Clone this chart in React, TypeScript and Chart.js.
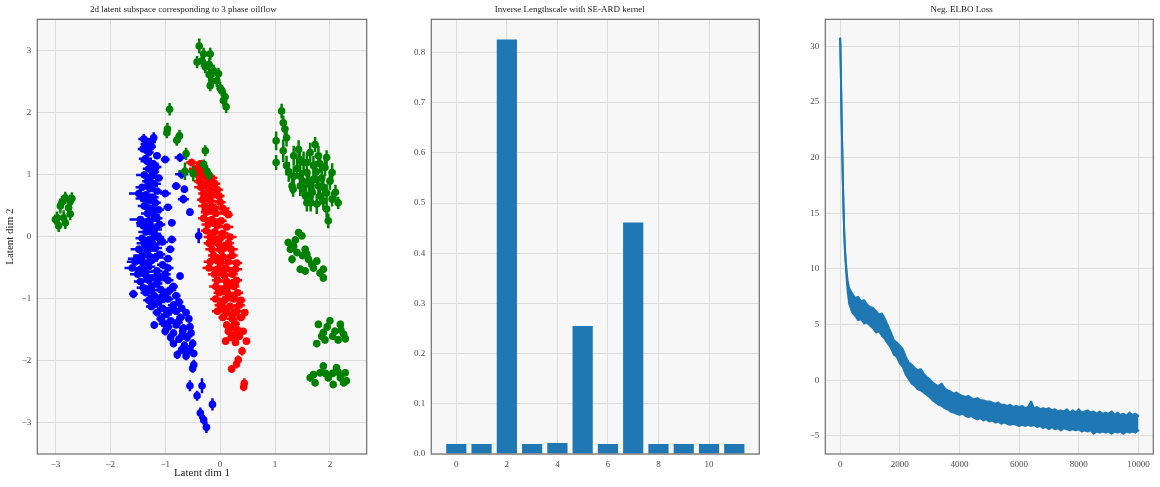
import React, { useEffect, useRef } from 'react';
import { Chart, registerables } from 'chart.js';

Chart.register(...registerables);

const FONT = "'Liberation Serif', 'DejaVu Serif', serif";

// ---------- Panel 1: latent space (x, y, xerr, yerr) ----------
const bluePoints: number[][] = [
  [-1.39, 1.58, 0.10, 0.08], [-1.21, 1.60, 0.06, 0.09], [-1.33, 1.50, 0.12, 0.06], [-1.25, 1.46, 0.08, 0.07],
  [-1.40, 1.42, 0.10, 0.05], [-1.30, 1.36, 0.09, 0.06], [-1.15, 1.31, 0.07, 0.05], [-1.00, 1.25, 0.08, 0.06],
  [-0.73, 1.28, 0.10, 0.07], [-1.33, 1.22, 0.12, 0.05], [-1.22, 1.18, 0.10, 0.06], [-1.30, 1.10, 0.11, 0.06],
  [-1.20, 1.05, 0.09, 0.05], [-1.38, 1.00, 0.15, 0.05], [-1.25, 0.98, 0.12, 0.06], [-1.12, 0.95, 0.08, 0.05],
  [-0.70, 1.01, 0.12, 0.07], [-1.32, 0.90, 0.10, 0.05], [-1.20, 0.86, 0.12, 0.06], [-1.42, 0.80, 0.12, 0.05],
  [-1.28, 0.78, 0.10, 0.06], [-1.15, 0.74, 0.09, 0.05], [-0.80, 0.82, 0.08, 0.06], [-0.65, 0.77, 0.06, 0.06],
  [-1.48, 0.70, 0.18, 0.06], [-1.35, 0.68, 0.12, 0.05], [-1.22, 0.64, 0.10, 0.05], [-1.00, 0.70, 0.10, 0.06],
  [-1.30, 0.58, 0.15, 0.05], [-1.18, 0.55, 0.10, 0.06], [-0.67, 0.61, 0.10, 0.07], [-1.38, 0.50, 0.12, 0.05],
  [-1.25, 0.46, 0.14, 0.06], [-1.12, 0.44, 0.10, 0.05], [-0.95, 0.48, 0.08, 0.05], [-1.32, 0.38, 0.12, 0.06],
  [-1.20, 0.35, 0.10, 0.05], [-0.55, 0.40, 0.06, 0.06], [-1.45, 0.28, 0.20, 0.05], [-1.30, 0.26, 0.14, 0.06],
  [-1.15, 0.30, 0.10, 0.05], [-1.40, 0.18, 0.12, 0.05], [-1.25, 0.15, 0.15, 0.06], [-1.10, 0.20, 0.10, 0.05],
  [-0.88, 0.23, 0.07, 0.06], [-1.35, 0.08, 0.14, 0.05], [-1.20, 0.05, 0.12, 0.06], [-1.42, -0.02, 0.12, 0.05],
  [-1.28, -0.04, 0.15, 0.06], [-1.12, 0.00, 0.10, 0.05], [-0.39, 0.02, 0.06, 0.12], [-0.88, -0.04, 0.08, 0.06],
  [-1.38, -0.10, 0.14, 0.05], [-1.22, -0.12, 0.12, 0.06], [-1.05, -0.08, 0.10, 0.05], [-1.48, -0.20, 0.15, 0.06],
  [-1.32, -0.22, 0.14, 0.05], [-1.18, -0.18, 0.12, 0.06], [-0.91, -0.20, 0.08, 0.06], [-1.42, -0.30, 0.16, 0.05],
  [-1.28, -0.32, 0.12, 0.06], [-1.10, -0.28, 0.10, 0.05], [-0.95, -0.35, 0.08, 0.05], [-1.55, -0.40, 0.15, 0.06],
  [-1.40, -0.42, 0.14, 0.05], [-1.25, -0.38, 0.12, 0.06], [-1.05, -0.45, 0.10, 0.05], [-1.60, -0.50, 0.14, 0.05],
  [-1.45, -0.52, 0.15, 0.06], [-1.30, -0.48, 0.12, 0.05], [-1.15, -0.55, 0.10, 0.06], [-0.95, -0.50, 0.10, 0.05],
  [-1.50, -0.60, 0.14, 0.05], [-1.35, -0.62, 0.12, 0.06], [-1.20, -0.65, 0.12, 0.05], [-1.00, -0.60, 0.10, 0.06],
  [-0.73, -0.63, 0.06, 0.06], [-1.45, -0.72, 0.12, 0.05], [-1.30, -0.70, 0.14, 0.06], [-1.15, -0.75, 0.10, 0.05],
  [-0.95, -0.70, 0.10, 0.06], [-1.40, -0.82, 0.12, 0.05], [-1.25, -0.80, 0.12, 0.06], [-1.08, -0.85, 0.10, 0.05],
  [-0.85, -0.80, 0.08, 0.06], [-1.58, -0.92, 0.08, 0.07], [-1.35, -0.90, 0.10, 0.05], [-1.20, -0.95, 0.12, 0.06],
  [-1.00, -0.92, 0.10, 0.05], [-0.80, -0.95, 0.08, 0.06], [-1.30, -1.02, 0.10, 0.05], [-1.12, -1.05, 0.12, 0.06],
  [-0.95, -1.00, 0.10, 0.05], [-0.75, -1.05, 0.08, 0.06], [-1.25, -1.12, 0.10, 0.06], [-1.05, -1.15, 0.10, 0.05],
  [-0.85, -1.10, 0.10, 0.06], [-0.70, -1.15, 0.06, 0.05], [-1.15, -1.22, 0.08, 0.06], [-0.98, -1.25, 0.10, 0.05],
  [-0.80, -1.20, 0.08, 0.06], [-0.62, -1.22, 0.06, 0.06], [-1.08, -1.32, 0.08, 0.06], [-0.90, -1.35, 0.08, 0.05],
  [-0.72, -1.30, 0.08, 0.06], [-0.57, -1.32, 0.06, 0.06], [-1.20, -1.42, 0.06, 0.06], [-0.95, -1.45, 0.08, 0.06],
  [-0.80, -1.42, 0.06, 0.05], [-0.55, -1.45, 0.06, 0.07], [-1.00, -1.52, 0.06, 0.07], [-0.85, -1.55, 0.06, 0.06],
  [-0.68, -1.52, 0.06, 0.06], [-0.53, -1.55, 0.05, 0.07], [-0.90, -1.62, 0.05, 0.07], [-0.75, -1.65, 0.06, 0.06],
  [-0.60, -1.62, 0.05, 0.07], [-0.85, -1.72, 0.05, 0.06], [-0.65, -1.75, 0.05, 0.07], [-0.50, -1.72, 0.05, 0.07],
  [-0.70, -1.82, 0.05, 0.07], [-0.55, -1.80, 0.05, 0.06], [-0.78, -1.90, 0.04, 0.07], [-0.62, -1.92, 0.05, 0.07],
  [-0.48, -1.88, 0.04, 0.06], [-0.48, -2.06, 0.04, 0.08], [-0.50, -2.12, 0.04, 0.07], [-0.55, -2.40, 0.03, 0.09],
  [-0.33, -2.40, 0.03, 0.12], [-0.42, -2.56, 0.03, 0.08], [-0.14, -2.70, 0.03, 0.10], [-0.36, -2.84, 0.03, 0.09],
  [-0.30, -2.95, 0.03, 0.08], [-0.25, -3.07, 0.03, 0.09],
  [-1.27, 1.53, 0.10, 0.06], [-1.36, 1.26, 0.12, 0.06], [-1.17, 1.13, 0.10, 0.06], [-1.27, 0.83, 0.14, 0.06],
  [-1.40, 0.62, 0.14, 0.06], [-1.22, 0.40, 0.14, 0.06], [-1.37, 0.22, 0.16, 0.06], [-1.20, 0.12, 0.14, 0.06],
  [-1.35, -0.16, 0.16, 0.06], [-1.18, -0.33, 0.15, 0.06], [-1.52, -0.35, 0.16, 0.06], [-1.38, -0.56, 0.16, 0.06],
  [-1.10, -0.66, 0.14, 0.06], [-1.25, -0.86, 0.14, 0.06], [-0.92, -0.86, 0.12, 0.06], [-1.05, -0.97, 0.12, 0.06],
  [-1.18, -1.08, 0.12, 0.06], [-0.90, -1.18, 0.12, 0.06], [-0.78, -1.38, 0.10, 0.06], [-1.02, -1.40, 0.10, 0.06],
  [-0.67, -1.47, 0.08, 0.06], [-0.70, -1.60, 0.06, 0.07], [-0.60, -1.85, 0.06, 0.07],
];

const redPoints: number[][] = [
  [-0.52, 1.20, 0.10, 0.06], [-0.36, 1.18, 0.08, 0.06], [-0.45, 1.10, 0.12, 0.05], [-0.30, 1.08, 0.10, 0.05],
  [-0.40, 1.00, 0.10, 0.05], [-0.28, 0.98, 0.12, 0.06], [-0.15, 0.95, 0.10, 0.05], [-0.38, 0.90, 0.10, 0.05],
  [-0.22, 0.88, 0.12, 0.06], [-0.10, 0.86, 0.10, 0.05], [-0.35, 0.80, 0.12, 0.05], [-0.20, 0.78, 0.10, 0.06],
  [-0.05, 0.76, 0.10, 0.05], [-0.30, 0.70, 0.10, 0.05], [-0.15, 0.68, 0.12, 0.06], [-0.02, 0.66, 0.10, 0.05],
  [-0.32, 0.60, 0.10, 0.05], [-0.18, 0.58, 0.12, 0.06], [0.00, 0.56, 0.10, 0.05], [-0.28, 0.50, 0.12, 0.05],
  [-0.12, 0.48, 0.10, 0.06], [0.05, 0.46, 0.12, 0.05], [-0.25, 0.40, 0.10, 0.05], [-0.08, 0.38, 0.12, 0.06],
  [0.10, 0.40, 0.10, 0.05], [0.15, 0.36, 0.08, 0.05], [-0.30, 0.30, 0.10, 0.05], [-0.15, 0.28, 0.12, 0.06],
  [0.02, 0.26, 0.10, 0.05], [-0.22, 0.20, 0.12, 0.05], [-0.05, 0.18, 0.10, 0.06], [0.12, 0.16, 0.12, 0.05],
  [-0.25, 0.10, 0.10, 0.05], [-0.10, 0.08, 0.12, 0.06], [0.05, 0.06, 0.10, 0.05], [-0.18, 0.00, 0.12, 0.05],
  [0.00, -0.02, 0.10, 0.06], [0.18, 0.00, 0.12, 0.05], [-0.20, -0.10, 0.10, 0.05], [-0.02, -0.12, 0.12, 0.06],
  [0.15, -0.10, 0.10, 0.05], [-0.15, -0.20, 0.12, 0.05], [0.02, -0.22, 0.10, 0.06], [0.20, -0.20, 0.12, 0.05],
  [-0.12, -0.30, 0.10, 0.05], [0.05, -0.32, 0.12, 0.06], [0.22, -0.30, 0.10, 0.05], [-0.18, -0.40, 0.12, 0.05],
  [0.00, -0.42, 0.10, 0.06], [0.15, -0.40, 0.12, 0.05], [0.30, -0.42, 0.10, 0.05], [-0.20, -0.50, 0.12, 0.05],
  [-0.05, -0.52, 0.12, 0.06], [0.10, -0.50, 0.12, 0.05], [0.28, -0.52, 0.12, 0.05], [-0.10, -0.60, 0.12, 0.05],
  [0.08, -0.62, 0.12, 0.06], [0.22, -0.60, 0.10, 0.05], [-0.05, -0.70, 0.10, 0.05], [0.12, -0.72, 0.12, 0.06],
  [0.30, -0.70, 0.10, 0.05], [-0.08, -0.80, 0.12, 0.05], [0.10, -0.82, 0.12, 0.06], [0.25, -0.80, 0.10, 0.05],
  [-0.02, -0.90, 0.10, 0.05], [0.15, -0.92, 0.12, 0.06], [0.32, -0.90, 0.10, 0.05], [-0.08, -1.00, 0.10, 0.05],
  [0.08, -1.02, 0.12, 0.06], [0.25, -1.00, 0.10, 0.05], [0.38, -1.02, 0.08, 0.05], [0.00, -1.10, 0.10, 0.05],
  [0.18, -1.12, 0.12, 0.06], [0.35, -1.10, 0.10, 0.05], [-0.05, -1.20, 0.10, 0.05], [0.12, -1.22, 0.10, 0.06],
  [0.30, -1.20, 0.10, 0.05], [0.45, -1.22, 0.05, 0.05], [0.05, -1.30, 0.08, 0.05], [0.22, -1.32, 0.10, 0.06],
  [0.38, -1.30, 0.08, 0.05], [0.12, -1.42, 0.06, 0.06], [0.28, -1.40, 0.08, 0.05], [0.15, -1.52, 0.06, 0.06],
  [0.32, -1.50, 0.08, 0.06], [0.42, -1.52, 0.05, 0.05], [0.20, -1.62, 0.06, 0.06], [0.35, -1.60, 0.06, 0.06],
  [0.10, -1.68, 0.06, 0.06], [0.28, -1.70, 0.06, 0.06], [0.48, -1.68, 0.06, 0.05], [0.40, -1.84, 0.05, 0.07],
  [0.33, -1.98, 0.05, 0.07], [0.30, -2.05, 0.05, 0.07], [0.21, -2.13, 0.05, 0.06], [0.44, -2.36, 0.04, 0.08],
  [0.43, -2.42, 0.04, 0.07],
  [-0.42, 1.04, 0.12, 0.06], [-0.25, 0.83, 0.14, 0.06], [-0.22, 0.64, 0.14, 0.06], [-0.20, 0.44, 0.14, 0.06],
  [-0.10, 0.23, 0.14, 0.06], [-0.08, -0.05, 0.14, 0.06], [0.08, -0.15, 0.14, 0.06], [-0.05, -0.35, 0.14, 0.06],
  [0.05, -0.55, 0.14, 0.06], [0.20, -0.76, 0.14, 0.06], [0.05, -0.86, 0.14, 0.06], [0.18, -0.97, 0.14, 0.06],
  [0.10, -1.16, 0.14, 0.06], [0.22, -1.26, 0.12, 0.06], [0.20, -1.46, 0.10, 0.06], [0.25, -1.58, 0.08, 0.06],
];

const greenPoints: number[][] = [
  [-0.38, 3.08, 0.04, 0.12], [-0.30, 2.95, 0.04, 0.10], [-0.18, 2.95, 0.04, 0.10], [-0.42, 2.82, 0.04, 0.10],
  [-0.33, 2.84, 0.04, 0.10], [-0.27, 2.74, 0.05, 0.10], [-0.20, 2.78, 0.04, 0.10], [-0.12, 2.68, 0.04, 0.10],
  [-0.03, 2.63, 0.05, 0.10], [-0.20, 2.62, 0.04, 0.10], [-0.15, 2.52, 0.04, 0.10], [-0.06, 2.52, 0.04, 0.10],
  [-0.18, 2.44, 0.04, 0.09], [0.00, 2.40, 0.04, 0.10], [0.03, 2.36, 0.04, 0.09], [0.09, 2.26, 0.04, 0.10],
  [0.06, 2.20, 0.04, 0.09], [0.11, 2.10, 0.04, 0.10],
  [-0.92, 2.06, 0.04, 0.10], [-0.96, 1.74, 0.04, 0.10], [-0.97, 1.68, 0.04, 0.09], [-0.74, 1.63, 0.05, 0.10],
  [-0.79, 1.56, 0.05, 0.09], [-0.62, 1.34, 0.04, 0.10], [-0.27, 1.39, 0.06, 0.09], [-0.30, 1.17, 0.04, 0.08],
  [-0.64, 1.06, 0.12, 0.14], [-0.49, 1.02, 0.06, 0.12], [-0.24, 1.06, 0.05, 0.10], [-0.20, 1.00, 0.04, 0.08],
  [-2.82, 0.63, 0.03, 0.10], [-2.73, 0.58, 0.03, 0.10], [-2.70, 0.62, 0.03, 0.10], [-2.91, 0.50, 0.03, 0.12],
  [-2.76, 0.47, 0.03, 0.12], [-2.88, 0.56, 0.03, 0.10], [-2.97, 0.31, 0.03, 0.10], [-2.85, 0.31, 0.03, 0.12],
  [-2.73, 0.37, 0.03, 0.10], [-2.94, 0.18, 0.03, 0.10], [-2.82, 0.23, 0.03, 0.10], [-3.00, 0.28, 0.03, 0.08],
  [1.12, 2.03, 0.03, 0.12], [1.15, 1.84, 0.03, 0.12], [1.18, 1.74, 0.03, 0.12], [1.02, 1.55, 0.03, 0.15],
  [1.21, 1.60, 0.03, 0.14], [1.02, 1.20, 0.03, 0.12], [1.15, 1.39, 0.03, 0.18], [1.21, 1.15, 0.03, 0.16],
  [1.34, 1.31, 0.03, 0.16], [1.43, 1.41, 0.03, 0.15], [1.31, 0.82, 0.03, 0.12], [1.34, 0.98, 0.03, 0.16],
  [1.52, 1.20, 0.04, 0.18], [1.73, 1.49, 0.03, 0.12], [1.64, 1.36, 0.03, 0.16], [1.79, 1.31, 0.03, 0.16],
  [1.94, 1.28, 0.03, 0.12], [1.91, 1.12, 0.03, 0.14], [2.04, 1.04, 0.03, 0.15], [2.00, 0.90, 0.03, 0.14],
  [1.58, 1.04, 0.04, 0.18], [1.70, 0.93, 0.04, 0.18], [1.52, 0.77, 0.04, 0.16], [1.64, 0.66, 0.04, 0.16],
  [1.82, 0.66, 0.04, 0.15], [1.94, 0.71, 0.04, 0.14], [2.15, 0.55, 0.05, 0.10], [2.04, 0.61, 0.04, 0.12],
  [1.58, 0.55, 0.04, 0.14], [1.76, 0.53, 0.04, 0.16], [1.94, 0.45, 0.04, 0.14], [1.97, 0.26, 0.04, 0.12],
  [1.46, 0.98, 0.04, 0.16], [1.46, 0.82, 0.04, 0.16], [1.79, 0.82, 0.04, 0.16], [1.58, 1.20, 0.04, 0.16],
  [1.70, 1.15, 0.04, 0.16], [1.33, 0.77, 0.03, 0.12], [1.62, 0.85, 0.04, 0.18], [1.85, 0.95, 0.04, 0.16],
  [1.40, 1.10, 0.03, 0.15], [1.68, 0.72, 0.04, 0.16], [1.88, 0.58, 0.04, 0.14], [2.10, 0.72, 0.04, 0.12],
  [1.25, 1.05, 0.03, 0.16], [1.50, 0.90, 0.04, 0.18], [1.75, 1.05, 0.04, 0.18], [1.88, 0.80, 0.04, 0.16],
  [1.65, 0.55, 0.04, 0.14], [1.55, 0.68, 0.04, 0.16], [1.82, 1.18, 0.04, 0.14], [1.45, 1.25, 0.03, 0.16],
  [1.43, 0.07, 0.04, 0.06], [1.49, 0.02, 0.04, 0.06], [1.24, -0.09, 0.04, 0.06], [1.34, -0.15, 0.04, 0.06],
  [1.40, -0.25, 0.04, 0.06], [1.55, -0.20, 0.04, 0.06], [1.31, -0.36, 0.04, 0.07], [1.61, -0.36, 0.04, 0.06],
  [1.76, -0.39, 0.04, 0.06], [1.46, -0.52, 0.04, 0.06], [1.55, -0.55, 0.04, 0.06], [1.88, -0.52, 0.04, 0.06],
  [1.88, -0.66, 0.04, 0.06], [1.67, -0.44, 0.04, 0.06], [1.50, -0.30, 0.04, 0.06], [1.37, -0.05, 0.04, 0.06],
  [1.58, -0.28, 0.04, 0.06], [1.70, -0.50, 0.04, 0.06], [1.82, -0.58, 0.04, 0.06], [1.28, -0.20, 0.04, 0.06],
  [1.79, -1.41, 0.04, 0.06], [2.00, -1.35, 0.04, 0.06], [2.19, -1.41, 0.04, 0.06], [1.88, -1.54, 0.04, 0.06],
  [2.09, -1.52, 0.04, 0.06], [2.25, -1.57, 0.04, 0.06], [1.76, -1.72, 0.04, 0.06], [1.91, -1.66, 0.04, 0.06],
  [2.15, -1.66, 0.04, 0.06], [2.28, -1.64, 0.04, 0.06], [1.95, -1.45, 0.04, 0.06], [1.85, -1.60, 0.04, 0.06],
  [2.05, -1.60, 0.04, 0.06], [2.20, -1.50, 0.04, 0.06],
  [1.64, -2.27, 0.04, 0.06], [1.73, -2.35, 0.04, 0.06], [1.82, -2.19, 0.04, 0.06], [1.88, -2.08, 0.04, 0.06],
  [1.97, -2.27, 0.04, 0.06], [2.12, -2.11, 0.04, 0.06], [2.19, -2.27, 0.04, 0.06], [2.28, -2.19, 0.04, 0.06],
  [2.30, -2.32, 0.04, 0.06], [2.06, -2.38, 0.04, 0.06], [2.05, -2.20, 0.04, 0.06], [1.70, -2.22, 0.04, 0.06],
  [2.25, -2.35, 0.04, 0.06], [2.15, -2.18, 0.04, 0.06], [1.92, -2.20, 0.04, 0.06],
];

const latentXTicks = [-3, -2, -1, 0, 1, 2];
const latentYTicks = [-3, -2, -1, 0, 1, 2, 3];

// ---------- Panel 2: inverse lengthscales ----------
const dims = [0, 1, 2, 3, 4, 5, 6, 7, 8, 9, 10, 11];
const invLengthscale = [0.02, 0.02, 0.826, 0.02, 0.022, 0.255, 0.02, 0.461, 0.02, 0.02, 0.02, 0.02];
const barXTicks = [0, 2, 4, 6, 8, 10];
const barYTicks = [0, 0.1, 0.2, 0.3, 0.4, 0.5, 0.6, 0.7, 0.8];

// ---------- Panel 3: loss (upper / lower envelope of the noisy curve) ----------
const lossSteps = [
  0, 20, 40, 60, 90, 110, 135, 160, 190, 220, 250, 300,
  400, 500, 600, 700, 800, 900, 1000, 1100, 1200, 1300, 1400, 1500, 1600, 1700, 1800, 1900,
  2000, 2100, 2200, 2300, 2400, 2500, 2600, 2700, 2800, 2900, 3000, 3100, 3200, 3300, 3400, 3500,
  3600, 3700, 3800, 3900, 4000, 4100, 4200, 4300, 4400, 4500, 4600, 4700, 4800, 4900, 5000, 5100,
  5200, 5300, 5400, 5500, 5600, 5700, 5800, 5900, 6000, 6100, 6200, 6300, 6400, 6500, 6600, 6700,
  6800, 6900, 7000, 7100, 7200, 7300, 7400, 7500, 7600, 7700, 7800, 7900, 8000, 8100, 8200, 8300,
  8400, 8500, 8600, 8700, 8800, 8900, 9000, 9100, 9200, 9300, 9400, 9500, 9600, 9700, 9800, 9900, 10000,
];
const lossUpper = [
  30.7, 28.0, 24.5, 21.8, 17.8, 15.5, 13.2, 11.8, 10.6, 9.7, 8.9, 8.3,
  7.8, 7.4, 7.5, 7.1, 7.2, 6.8, 6.6, 6.5, 6.2, 5.9, 6.0, 5.5, 4.9, 4.3, 3.6, 3.4,
  3.1, 2.8, 2.1, 1.6, 1.4, 1.1, 0.9, 1.0, 0.6, 0.3, 0.1, -0.2, -0.4, -0.5, -0.3, -0.7,
  -0.9, -1.0, -1.2, -1.1, -1.3, -1.4, -1.5, -1.4, -1.6, -1.7, -1.6, -1.8, -1.8, -1.9, -1.9, -2.0,
  -2.1, -2.0, -2.2, -2.2, -2.3, -2.2, -2.4, -2.3, -2.4, -2.3, -2.5, -2.4, -1.9, -2.5, -2.4, -2.6,
  -2.5, -2.6, -2.5, -2.7, -2.6, -2.8, -2.7, -2.8, -2.6, -2.9, -2.7, -2.9, -2.6, -2.9, -2.8, -2.7,
  -2.9, -2.8, -3.0, -2.8, -3.0, -2.9, -3.0, -2.8, -3.1, -2.9, -3.1, -3.0, -3.2, -2.9, -3.1, -3.0, -3.2,
];
const lossLower = [
  30.7, 28.0, 24.5, 21.8, 17.8, 15.5, 13.2, 11.6, 10.2, 9.0, 8.0, 6.9,
  6.1, 5.8, 5.4, 5.5, 5.1, 5.2, 4.9, 4.7, 4.3, 4.4, 4.0, 3.7, 3.3, 2.9, 2.3, 2.1,
  1.5, 1.2, 0.5, 0.1, -0.3, -0.5, -0.8, -0.9, -1.1, -1.3, -1.5, -1.8, -2.0, -2.2, -2.3, -2.5,
  -2.6, -2.8, -2.9, -3.0, -3.1, -3.0, -3.2, -3.3, -3.2, -3.4, -3.5, -3.4, -3.6, -3.5, -3.7, -3.6,
  -3.8, -3.7, -3.9, -3.8, -3.9, -4.0, -3.9, -4.0, -4.1, -4.0, -4.1, -4.0, -4.1, -4.0, -4.2, -4.1,
  -4.3, -4.2, -4.4, -4.2, -4.4, -4.3, -4.5, -4.3, -4.4, -4.5, -4.4, -4.5, -4.4, -4.6, -4.5, -4.6,
  -4.5, -4.8, -4.6, -4.7, -4.6, -4.7, -4.6, -4.8, -4.6, -4.7, -4.6, -4.8, -4.6, -4.7, -4.6, -4.7, -4.5,
];
const lossXTicks = [0, 2000, 4000, 6000, 8000, 10000];
const lossYTicks = [-5, 0, 5, 10, 15, 20, 25, 30];

// ---------- helpers ----------
const fmt = (v: number, d: number) => {
  const s = Math.abs(v).toFixed(d);
  return v < 0 ? '\u2212' + s : s;
};

const framePlugin = {
  id: 'frame',
  beforeDraw(chart: any) {
    const { ctx, chartArea: a } = chart;
    ctx.save();
    ctx.fillStyle = '#f7f7f7';
    ctx.fillRect(a.left, a.top, a.right - a.left, a.bottom - a.top);
    ctx.restore();
  },
  afterDraw(chart: any) {
    const { ctx, chartArea: a } = chart;
    ctx.save();
    ctx.strokeStyle = '#6e6e6e';
    ctx.lineWidth = 1.2;
    ctx.strokeRect(a.left, a.top, a.right - a.left, a.bottom - a.top);
    ctx.restore();
  },
};

const errorBarPlugin = {
  id: 'errorBars',
  beforeDatasetDraw(chart: any, args: any) {
    const ds = chart.data.datasets[args.index];
    if (!ds.errorBars) return;
    const { ctx } = chart;
    const xs = chart.scales.x;
    const ys = chart.scales.y;
    ctx.save();
    ctx.strokeStyle = ds.backgroundColor;
    ctx.lineWidth = 2.5;
    ctx.beginPath();
    ds.data.forEach((p: any) => {
      const px = xs.getPixelForValue(p.x);
      const py = ys.getPixelForValue(p.y);
      ctx.moveTo(xs.getPixelForValue(p.x - p.ex), py);
      ctx.lineTo(xs.getPixelForValue(p.x + p.ex), py);
      ctx.moveTo(px, ys.getPixelForValue(p.y - p.ey));
      ctx.lineTo(px, ys.getPixelForValue(p.y + p.ey));
    });
    ctx.stroke();
    ctx.restore();
  },
};

function axis(min: number, max: number, ticks: number[], decimals: number, isY: boolean, size: number, title?: any) {
  return {
    type: 'linear',
    min,
    max,
    offset: false,
    afterBuildTicks: (s: any) => {
      s.ticks = ticks.map((v) => ({ value: v }));
    },
    afterFit: (s: any) => {
      if (isY) s.width = size;
      else s.height = size;
    },
    grid: { color: '#dcdcdc', lineWidth: 1, drawTicks: false, tickLength: 0, offset: false },
    border: { display: false },
    ticks: {
      color: '#4a4a4a',
      font: { family: FONT, size: 9 },
      padding: isY ? 6 : 5,
      autoSkip: false,
      maxRotation: 0,
      callback: (v: any) => fmt(Number(v), decimals),
    },
    title: title || { display: false },
  };
}

function titleOpts(text: string) {
  return {
    display: true,
    text,
    color: '#222',
    font: { family: FONT, size: 9, weight: 'normal', lineHeight: 1.2 },
    padding: { top: 4, bottom: 4.5 },
  };
}

const toPts = (arr: number[][]) => arr.map(([x, y, ex, ey]) => ({ x, y, ex, ey }));

export default function App() {
  const c1 = useRef<HTMLCanvasElement>(null);
  const c2 = useRef<HTMLCanvasElement>(null);
  const c3 = useRef<HTMLCanvasElement>(null);

  useEffect(() => {
    const common = {
      animation: false,
      responsive: false,
      maintainAspectRatio: false,
      devicePixelRatio: 1,
      events: [],
    };

    const chart1 = new Chart(c1.current as HTMLCanvasElement, {
      type: 'scatter',
      data: {
        datasets: [
          { label: 'green', data: toPts(greenPoints), backgroundColor: '#008000', borderColor: '#008000', errorBars: true, order: 0 },
          { label: 'blue', data: toPts(bluePoints), backgroundColor: '#0000ff', borderColor: '#0000ff', errorBars: true, order: 1 },
          { label: 'red', data: toPts(redPoints), backgroundColor: '#ff0000', borderColor: '#ff0000', errorBars: true, order: 2 },
        ] as any,
      },
      options: {
        ...common,
        layout: { padding: { left: 0, right: 13.3, top: 0, bottom: 0 } },
        elements: { point: { radius: 3.8, borderWidth: 0, hoverRadius: 3.8 } },
        plugins: {
          legend: { display: false },
          tooltip: { enabled: false },
          title: titleOpts('2d latent subspace corresponding to 3 phase oilflow'),
        },
        scales: {
          x: axis(-3.33, 2.67, latentXTicks, 0, false, 33, {
            display: true,
            text: 'Latent dim 1',
            color: '#222',
            font: { family: FONT, size: 11, lineHeight: 1.2 },
            padding: { top: 0, bottom: 7.4 },
          }),
          y: axis(-3.5, 3.51, latentYTicks, 0, true, 37.3, {
            display: true,
            text: 'Latent dim 2',
            color: '#222',
            font: { family: FONT, size: 11, lineHeight: 1.2 },
            padding: { top: 3.5, bottom: 0 },
          }),
        } as any,
      } as any,
      plugins: [framePlugin, errorBarPlugin],
    });

    const chart2 = new Chart(c2.current as HTMLCanvasElement, {
      type: 'bar',
      data: {
        datasets: [
          {
            label: 'inverse lengthscale',
            data: dims.map((d, i) => ({ x: d, y: invLengthscale[i] })),
            backgroundColor: '#1f77b4',
            borderWidth: 0,
            barPercentage: 0.8,
            categoryPercentage: 1.0,
          },
        ] as any,
      },
      options: {
        ...common,
        layout: { padding: { left: 0, right: 10.7, top: 0, bottom: 0 } },
        plugins: {
          legend: { display: false },
          tooltip: { enabled: false },
          title: titleOpts('Inverse Lengthscale with SE-ARD kernel'),
        },
        scales: {
          x: axis(-0.99, 11.99, barXTicks, 0, false, 33),
          y: axis(0, 0.866, barYTicks, 1, true, 51.3),
        } as any,
      } as any,
      plugins: [framePlugin],
    });

    const lineStyle = {
      borderColor: '#1f77b4',
      backgroundColor: '#1f77b4',
      borderWidth: 2,
      borderJoinStyle: 'round',
      borderCapStyle: 'round',
      pointRadius: 0,
      tension: 0.0001,
    };

    const chart3 = new Chart(c3.current as HTMLCanvasElement, {
      type: 'line',
      data: {
        datasets: [
          {
            label: 'loss upper',
            data: lossSteps.map((s, i) => ({ x: s, y: lossUpper[i] })),
            ...lineStyle,
            fill: '+1',
          },
          {
            label: 'loss lower',
            data: lossSteps.map((s, i) => ({ x: s, y: lossLower[i] })),
            ...lineStyle,
            fill: false,
          },
        ] as any,
      },
      options: {
        ...common,
        layout: { padding: { left: 0, right: 6.7, top: 0, bottom: 0 } },
        plugins: {
          legend: { display: false },
          tooltip: { enabled: false },
          title: titleOpts('Neg. ELBO Loss'),
        },
        scales: {
          x: axis(-500, 10500, lossXTicks, 0, false, 33),
          y: axis(-6.62, 32.43, lossYTicks, 0, true, 55.3),
        } as any,
      } as any,
      plugins: [framePlugin],
    });

    return () => {
      chart1.destroy();
      chart2.destroy();
      chart3.destroy();
    };
  }, []);

  const canvasStyle = (left: number, width: number): React.CSSProperties => ({
    position: 'absolute',
    left,
    top: 0,
    width,
    height: 487,
  });

  return (
    <div style={{ position: 'absolute', left: 0, top: 0, width: 1160, height: 487, background: '#ffffff' }}>
      <canvas ref={c1} width={380} height={487} style={canvasStyle(0, 380)} />
      <canvas ref={c2} width={390} height={487} style={canvasStyle(380, 390)} />
      <canvas ref={c3} width={390} height={487} style={canvasStyle(770, 390)} />
    </div>
  );
}
